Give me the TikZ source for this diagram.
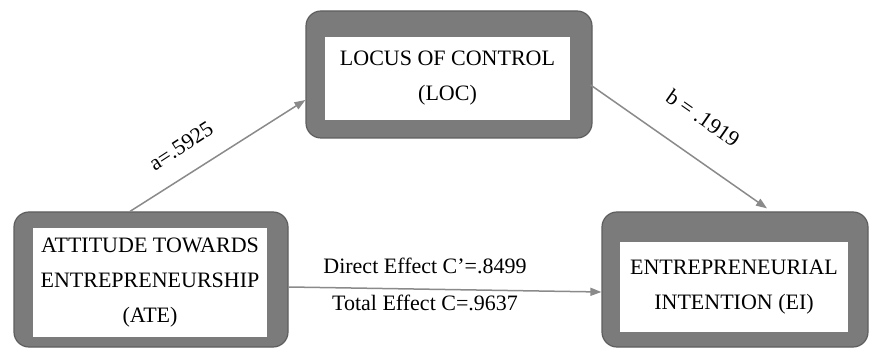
\documentclass[tikz,border=0pt]{standalone}
\usepackage{fontspec}
\setmainfont{Liberation Serif}
\usetikzlibrary{arrows.meta,calc}
\definecolor{boxgray}{HTML}{7B7B7B}
\definecolor{boxedge}{HTML}{5E5E5E}
\definecolor{arrowgray}{HTML}{8A8A8A}
\tikzset{
  outerbox/.style={draw=boxedge,line width=1.2pt,fill=boxgray,rounded corners=15pt,inner sep=0pt},
  innerbox/.style={fill=white,draw=none,inner sep=0pt,align=center,text=black,font=\fontsize{22}{35}\selectfont},
  conn/.style={draw=arrowgray,line width=1.5pt,-{Triangle[length=11pt,width=8pt]}},
  lbl/.style={inner sep=0pt,text=black,font=\fontsize{22}{26}\selectfont}
}
\begin{document}
\begin{tikzpicture}[x=1pt,y=-1pt]
\useasboundingbox (0,0) rectangle (869,352);
% outer boxes
\node[outerbox,minimum width=274pt,minimum height=135pt] (ate) at (151,279.5) {};
\node[outerbox,minimum width=286pt,minimum height=127pt] (loc) at (449,74.5) {};
\node[outerbox,minimum width=266pt,minimum height=135pt] (ei) at (735,279.5) {};
% inner boxes with text
\node[innerbox,minimum width=234pt,minimum height=109pt] (atet) at (150,282.5) {ATTITUDE TOWARDS\\ENTREPRENEURSHIP\\(ATE)};
\node[innerbox,minimum width=245pt,minimum height=83pt] (loct) at (447.5,78.5) {LOCUS OF CONTROL\\(LOC)};
\node[innerbox,minimum width=228pt,minimum height=90pt] (eit) at (734,287) {ENTREPRENEURIAL\\INTENTION (EI)};
% connectors
\draw[conn] ([xshift=-21pt]ate.north) -- ([yshift=-25.5pt]loc.west);
\draw[conn] ([yshift=-10.5pt,xshift=-2pt]loc.east) -- ([xshift=32pt,yshift=3pt]ei.north);
\draw[conn] ([yshift=-7.5pt]ate.east) -- ([yshift=-12.5pt]ei.west);
% labels
\node[lbl,rotate=33] (la) at (181,146) {a=.5925};
\node[lbl,rotate=-35] (lb) at (703,118) {b = .1919};
\node[lbl] (ld) at (425,266) {Direct Effect C’=.8499};
\node[lbl] (lt) at (425,303) {Total Effect C=.9637};
\end{tikzpicture}
\end{document}
